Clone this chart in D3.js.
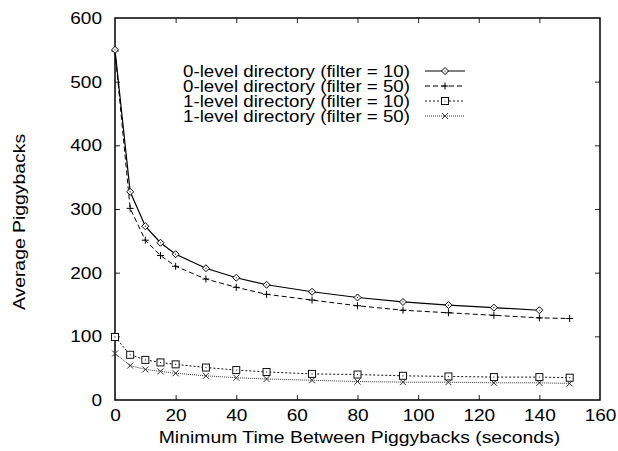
<!DOCTYPE html>
<html>
<head>
<meta charset="utf-8">
<script src="https://cdn.jsdelivr.net/npm/d3@7/dist/d3.min.js"></script>
<style>
  html, body { margin: 0; padding: 0; background: #fff; }
  svg { display: block; }
  text { font-family: "Liberation Sans", Arial, Helvetica, sans-serif; fill: #000; }
</style>
</head>
<body>
<svg id="chart" width="618" height="451"></svg>
<script>
// Minimum time between piggybacks (seconds)
const timesShort = [0, 5, 10, 15, 20, 30, 40, 50, 65, 80, 95, 110, 125, 140];
const timesLong  = [0, 5, 10, 15, 20, 30, 40, 50, 65, 80, 95, 110, 125, 140, 150];

// Average piggybacks per configuration
const level0Filter10 = [550, 327, 273, 247, 229, 207, 192, 181, 170, 161, 154, 149, 145, 141];
const level0Filter50 = [548, 301, 251, 227, 210, 190, 177, 166, 157, 148, 141, 137, 133, 129, 128];
const level1Filter10 = [99, 71, 63, 59, 56, 51, 47, 44, 41, 40, 38, 37, 36, 36, 35];
const level1Filter50 = [73, 54, 48, 45, 42, 38, 35, 33, 31, 29, 28, 28, 27, 27, 26];

const seriesNames = [
  "0-level directory (filter = 10)",
  "0-level directory (filter = 50)",
  "1-level directory (filter = 10)",
  "1-level directory (filter = 50)"
];

const xTicks = [0, 20, 40, 60, 80, 100, 120, 140, 160];
const yTicks = [0, 100, 200, 300, 400, 500, 600];

const xTitle = "Minimum Time Between Piggybacks (seconds)";
const yTitle = "Average Piggybacks";

const series = [
  { name: seriesNames[0], xs: timesShort, ys: level0Filter10, dash: null,  color: "#000", width: 1.2, marker: "diamond" },
  { name: seriesNames[1], xs: timesLong,  ys: level0Filter50, dash: "5,3", color: "#000", width: 1.0, marker: "plus" },
  { name: seriesNames[2], xs: timesLong,  ys: level1Filter10, dash: "2,2", color: "#111", width: 1.0, marker: "square" },
  { name: seriesNames[3], xs: timesLong,  ys: level1Filter50, dash: "1,1", color: "#333", width: 1.0, marker: "cross" }
];

const svg = d3.select("#chart");
const margin = { left: 115, right: 18, top: 18, bottom: 51 };
const W = 618, H = 451;

const x = d3.scaleLinear().domain([0, 160]).range([margin.left, W - margin.right]);
const y = d3.scaleLinear().domain([0, 600]).range([H - margin.bottom, margin.top]);

const fontSize = 17;
const stretch = 1.12;   // the lettering is set a little wide
const tickLen = 5;

// Stretch glyphs horizontally about the text's anchor point
function widen(sel, factor) {
  sel.each(function () {
    const ax = +(this.getAttribute("x") || 0);
    const prev = this.getAttribute("transform") || "";
    d3.select(this).attr("transform",
      `${prev} translate(${ax},0) scale(${factor},1) translate(${-ax},0)`);
  });
}

// Inward ticks on all four sides
const axes = [
  d3.axisBottom(x).tickValues(xTicks).tickSizeInner(-tickLen).tickSizeOuter(0).tickPadding(9),
  d3.axisTop(x).tickValues(xTicks).tickSizeInner(-tickLen).tickSizeOuter(0).tickFormat(""),
  d3.axisLeft(y).tickValues(yTicks).tickSizeInner(-tickLen).tickSizeOuter(0).tickPadding(13),
  d3.axisRight(y).tickValues(yTicks).tickSizeInner(-tickLen).tickSizeOuter(0).tickFormat("")
];
const trans = [
  `translate(0,${y(0)})`, `translate(0,${y(600)})`,
  `translate(${x(0)},0)`, `translate(${x(160)},0)`
];
axes.forEach((ax, i) => {
  const g = svg.append("g").attr("transform", trans[i]).call(ax);
  g.select(".domain").remove();
  g.selectAll(".tick line").attr("stroke", "#222").attr("stroke-width", 1);
  g.selectAll(".tick text")
    .attr("font-size", fontSize)
    .attr("font-family", "Liberation Sans, Arial, sans-serif")
    .attr("fill", "#000")
    .call(widen, stretch);
});
// keep tick marks off the frame corners
svg.selectAll(".tick").filter(d => d === 0 || d === 160 || d === 600).selectAll("line").remove();

// Frame
svg.append("rect")
  .attr("x", x(0)).attr("y", y(600))
  .attr("width", x(160) - x(0)).attr("height", y(0) - y(600))
  .attr("fill", "none").attr("stroke", "#000").attr("stroke-width", 1.5);

// Axis titles
svg.append("text")
  .attr("x", (x(0) + x(160)) / 2 + 2).attr("y", 443)
  .attr("text-anchor", "middle").attr("font-size", fontSize)
  .text(xTitle)
  .call(widen, 1.14);
svg.append("text")
  .attr("transform", `translate(25,${222}) rotate(-90)`)
  .attr("text-anchor", "middle").attr("font-size", fontSize)
  .text(yTitle)
  .call(widen, 1.14);

// Marker drawing
function drawMarker(g, kind, cx, cy, color) {
  const s = 3.5;
  if (kind === "diamond") {
    g.append("path")
      .attr("d", `M${cx},${cy - s}L${cx + s},${cy}L${cx},${cy + s}L${cx - s},${cy}Z`)
      .attr("fill", "#fff").attr("stroke", color).attr("stroke-width", 1);
    g.append("circle").attr("cx", cx).attr("cy", cy).attr("r", 0.6).attr("fill", color);
  } else if (kind === "plus") {
    g.append("path")
      .attr("d", `M${cx - s},${cy}H${cx + s}M${cx},${cy - s}V${cy + s}`)
      .attr("stroke", color).attr("stroke-width", 1);
  } else if (kind === "square") {
    g.append("rect")
      .attr("x", cx - s).attr("y", cy - s).attr("width", 2 * s).attr("height", 2 * s)
      .attr("fill", "#fff").attr("stroke", color).attr("stroke-width", 1);
    g.append("circle").attr("cx", cx).attr("cy", cy).attr("r", 0.6).attr("fill", color);
  } else if (kind === "cross") {
    const c = 3;
    g.append("path")
      .attr("d", `M${cx - c},${cy - c}L${cx + c},${cy + c}M${cx - c},${cy + c}L${cx + c},${cy - c}`)
      .attr("stroke", color).attr("stroke-width", 1);
  }
}

const line = d3.line().x(d => x(d[0])).y(d => y(d[1]));

// Draw the series, bottom ones first
series.slice().reverse().forEach(s => {
  const pts = s.xs.map((xv, i) => [xv, s.ys[i]]);
  const g = svg.append("g");
  g.append("path")
    .attr("d", line(pts))
    .attr("fill", "none")
    .attr("stroke", s.color)
    .attr("stroke-width", s.width)
    .attr("stroke-dasharray", s.dash);
  pts.forEach(p => drawMarker(g, s.marker, x(p[0]), y(p[1]), s.color));
});

// Legend
const legendTextX = 410, legendY0 = 71, legendDy = 15;
const sampleX0 = 425, sampleX1 = 465;
const legendFont = 16.5;
series.forEach((s, i) => {
  const ly = legendY0 + i * legendDy;
  const g = svg.append("g");
  g.append("text")
    .attr("x", legendTextX).attr("y", ly)
    .attr("dy", "0.36em")
    .attr("text-anchor", "end")
    .attr("font-size", legendFont)
    .text(s.name)
    .call(widen, 227 / (12.142 * legendFont));
  g.append("line")
    .attr("x1", sampleX0).attr("x2", sampleX1)
    .attr("y1", ly).attr("y2", ly)
    .attr("stroke", s.color).attr("stroke-width", s.width)
    .attr("stroke-dasharray", s.dash);
  drawMarker(g, s.marker, (sampleX0 + sampleX1) / 2, ly, s.color);
});
</script>
</body>
</html>
